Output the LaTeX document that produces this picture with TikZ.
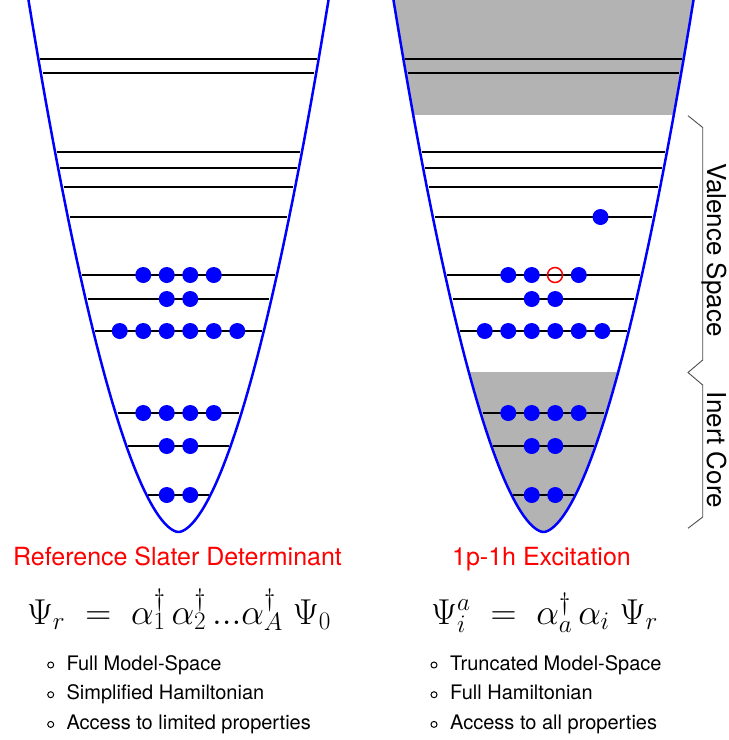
\documentclass[tikz,border=0pt]{standalone}
\usepackage{fix-cm}
\usepackage[no-math]{fontspec}
\setmainfont{TeX Gyre Heros}
\definecolor{coregray}{RGB}{179,179,179}

\begin{document}
\begin{tikzpicture}[x=1pt,y=-1pt,
    well/.style={blue,line width=2.5pt},
    level/.style={line width=2.2pt},
    particle/.style={fill=blue},
    brace line/.style={black!70,line width=0.9pt},
    title/.style={red,anchor=base,font=\fontsize{25}{30}\selectfont},
    formula/.style={anchor=base,font=\fontsize{36}{40}\selectfont},
    item/.style={anchor=base west,font=\fontsize{20}{24}\selectfont}]
  \useasboundingbox (0,0) rectangle (729,740);

  % shaded parts of the right well
  \begin{scope}
    \clip[shift={(543.5,0)}] plot[domain=-1.02:1.02,samples=102]
      ({150*\x*abs(\x)^0.16},{532*(1-\x*\x)}) -- cycle;
    \fill[coregray] (380,-10) rectangle (710,115);
    \fill[coregray] (380,372) rectangle (710,545);
  \end{scope}

  % single particle levels
  \foreach \y in {59,73,152,168,187,217,275,299,331,413,446,495} {
    \pgfmathsetmacro\w{150*((532-\y)/532)^0.58-2}
    \foreach \cx in {178.5,543.5}
      \draw[level] (\cx-\w,\y) -- (\cx+\w,\y);
  }

  % the two wells
  \foreach \cx in {178.5,543.5}
    \draw[well,shift={(\cx,0)}] plot[domain=-1.02:1.02,samples=102]
      ({150*\x*abs(\x)^0.16},{532*(1-\x*\x)});

  % occupied orbitals
  \foreach \cx in {178.5,543.5} {
    \foreach \k in {-0.5,0.5} {
      \fill[particle] (\cx+23.5*\k,299) circle (8pt);
      \fill[particle] (\cx+23.5*\k,446) circle (8pt);
      \fill[particle] (\cx+23.5*\k,495) circle (8pt);
    }
    \foreach \k in {-1.5,-0.5,0.5,1.5}
      \fill[particle] (\cx+23.5*\k,413) circle (8pt);
    \foreach \k in {-2.5,-1.5,...,2.5}
      \fill[particle] (\cx+23.5*\k,331) circle (8pt);
    \foreach \k in {-1.5,-0.5,1.5}
      \fill[particle] (\cx+23.5*\k,275) circle (8pt);
  }
  \fill[particle] (178.5+23.5*0.5,275) circle (8pt);
  % particle and hole
  \fill[particle] (600.5,217) circle (8pt);
  \draw[red,line width=1.5pt] (555,275) circle (7.5pt);

  % braces
  \draw[brace line] (688,115.7) -- (702.7,127.5) -- (702.7,360) -- (688,372.5)
    -- (702.7,385) -- (702.7,517) -- (688,528.3);
  \node[rotate=-90,anchor=base,font=\fontsize{26}{30}\selectfont] (valence) at (707,250) {Valence Space};
  \node[rotate=-90,anchor=base,font=\fontsize{26}{30}\selectfont] (core) at (707,450) {Inert Core};

  % titles and formulas
  \node[title] (reftitle) at (177.5,565.5) {Reference Slater Determinant};
  \node[title] (exctitle) at (541.5,565.5) {1p-1h Excitation};
  \node[formula] (refeq) at (179,624)
    {$\Psi_r \;=\; \alpha_1^\dagger\,\alpha_2^\dagger\,...\alpha_A^\dagger\;\Psi_0$};
  \node[formula] (exceq) at (544.5,624)
    {$\Psi_i^a \;=\; \alpha_a^\dagger\,\alpha_i\;\Psi_r$};

  % lists
  \foreach \t [count=\i] in {Full Model-Space,Simplified Hamiltonian,Access to limited properties} {
    \draw[line width=1pt] (50.7,670-5+29.7*\i-29.7) circle (3pt);
    \node[item] (left-\i) at (63,670+29.7*\i-29.7) {\t};
  }
  \foreach \t [count=\i] in {Truncated Model-Space,Full Hamiltonian,Access to all properties} {
    \draw[line width=1pt] (434,670-5+29.7*\i-29.7) circle (3pt);
    \node[item] (right-\i) at (446.7,670+29.7*\i-29.7) {\t};
  }
\end{tikzpicture}
\end{document}
